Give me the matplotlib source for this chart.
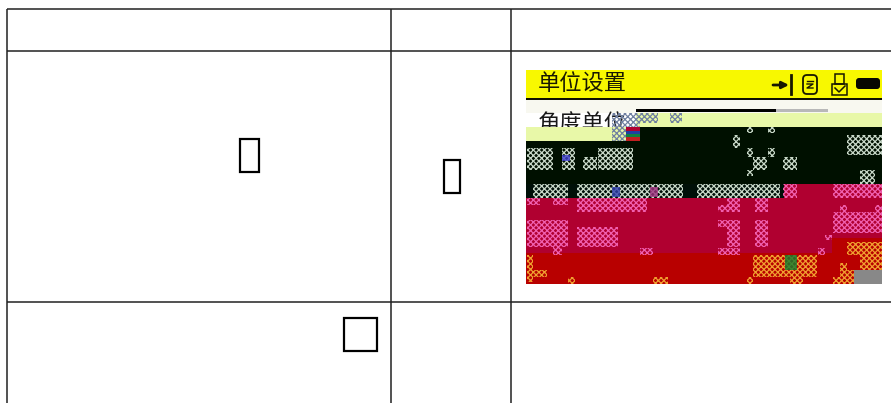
import matplotlib
matplotlib.use("Agg")
import matplotlib.pyplot as plt
from matplotlib.patches import Rectangle, FancyBboxPatch

plt.rcParams['font.family'] = ['Noto Sans CJK SC', 'DejaVu Sans']
plt.rcParams['hatch.linewidth'] = 0.9

title_text = "单位设置"
row_text = "角度单位"

table_h = [8.7, 50.7, 301.7]
table_v = [7.2, 391.2, 511.2]
placeholders = [(240, 139, 18.5, 33), (444, 160, 16, 32.5), (344, 318, 32.5, 33)]

# solid screen regions: x, y, w, h, colour
screen_blocks = [
    (526, 70, 356, 28, "#f8f800"),
    (526, 98, 356, 2, "#101000"),
    (526, 100, 356, 13, "#f8f8f0"),
    (636, 113, 246, 14, "#e8f8a8"),
    (526, 127, 110, 14, "#e8f8a8"),
    (636, 127, 246, 14, "#001000"),
    (526, 141, 356, 43, "#001000"),
    (526, 184, 356, 69, "#b00030"),
    (526, 184, 258, 14, "#001008"),
    (526, 253, 356, 31, "#b80000"),
    (832, 238, 50, 15, "#b80000"),
    (854, 270, 28, 14, "#888888"),
    (636, 109, 140, 3, "#000000"),
    (776, 109, 52, 3, "#b8b8b8"),
    (626, 127, 14, 4, "#b00030"),
    (626, 131, 14, 3, "#2040a0"),
    (626, 134, 14, 3, "#108040"),
    (626, 137, 14, 4, "#c02020"),
]

pale_noise = [(612, 113, 28, 14), (640, 113, 18, 10), (612, 127, 14, 14), (670, 113, 12, 10)]
dark_noise = [(527, 148, 26, 22), (562, 148, 13, 22), (583, 157, 14, 13), (598, 148, 35, 22),
              (733, 135, 7, 13), (747, 127, 6, 6), (768, 127, 7, 6), (747, 148, 6, 9),
              (768, 148, 7, 9), (753, 157, 14, 13), (783, 157, 14, 13), (747, 170, 6, 6),
              (847, 135, 35, 20), (860, 170, 15, 14), (533, 184, 35, 14), (577, 184, 106, 14),
              (697, 184, 83, 14)]
pink_noise = [(527, 198, 13, 7), (553, 198, 15, 7), (577, 198, 70, 14), (718, 205, 9, 7),
              (727, 198, 13, 14), (755, 198, 13, 14), (840, 205, 7, 7), (875, 205, 7, 7),
              (833, 212, 49, 21), (527, 220, 41, 27), (577, 227, 41, 20), (718, 220, 9, 7),
              (727, 220, 13, 27), (755, 220, 13, 27), (553, 247, 9, 8), (640, 248, 13, 7),
              (718, 248, 22, 7), (818, 248, 7, 7), (825, 235, 7, 5), (783, 184, 14, 14),
              (833, 184, 49, 14)]
orange_noise = [(847, 242, 35, 13), (860, 255, 22, 15), (527, 255, 6, 27), (533, 270, 14, 7),
                (753, 255, 64, 22), (840, 263, 7, 7), (840, 270, 14, 14), (568, 277, 7, 7),
                (653, 277, 15, 7), (747, 277, 6, 7), (790, 277, 13, 7), (833, 277, 7, 7)]
colour_spots = [(785, 255, 12, 15, "#108030"), (562, 155, 8, 6, "#4040d0"),
                (650, 187, 8, 10, "#a03080"), (612, 187, 8, 10, "#3040b0")]

fig = plt.figure(figsize=(8.91, 4.03), dpi=100)
ax = fig.add_axes([0, 0, 1, 1])
ax.set_xlim(0, 891)
ax.set_ylim(403, 0)
ax.axis("off")

for y in table_h:
    ax.plot([7, 891], [y, y], color="#222222", lw=1.1, solid_capstyle="butt", zorder=1)
for x in table_v:
    ax.plot([x, x], [9, 403], color="#222222", lw=1.1, solid_capstyle="butt", zorder=1)
for x, y, w, h in placeholders:
    ax.add_patch(Rectangle((x, y), w, h, fc="none", ec="black", lw=1.6, zorder=2))

for x, y, w, h, c in screen_blocks[:3]:
    ax.add_patch(Rectangle((x, y), w, h, fc=c, ec="none", zorder=3))
ax.text(538, 84, title_text, fontsize=16, fontweight="medium", color="#181800", va="center", ha="left", zorder=4)
ax.text(538, 124, row_text, fontsize=16, fontweight="medium", color="#181818", va="center", ha="left", zorder=4)
for x, y, w, h, c in screen_blocks[3:]:
    ax.add_patch(Rectangle((x, y), w, h, fc=c, ec="none", zorder=5))

def noise(items, colour, hatch="xxxxxx"):
    for x, y, w, h in items:
        ax.add_patch(Rectangle((x, y), w, h, fc="none", ec=colour, lw=0, hatch=hatch, zorder=6))

noise(pale_noise, "#7080a0")
noise(dark_noise, "#c8d8c8")
noise(pink_noise, "#f060b0")
noise(orange_noise, "#f0a030")
for x, y, w, h, c in colour_spots:
    ax.add_patch(Rectangle((x, y), w, h, fc=c, ec="none", alpha=0.8, zorder=7))

# status icons
ink = "#181800"
ax.annotate("", xy=(789, 85), xytext=(773, 85), zorder=8,
            arrowprops=dict(arrowstyle="-|>", color=ink, lw=2, mutation_scale=10, shrinkA=0, shrinkB=0))
ax.plot([790.5, 790.5], [75, 94], color=ink, lw=2, zorder=8)
ax.add_patch(FancyBboxPatch((803, 75), 14, 19, boxstyle="round,pad=0,rounding_size=4",
                            fc="none", ec=ink, lw=1.3, zorder=8))
ax.plot([807, 813], [81, 81], color=ink, lw=1, zorder=8)
ax.plot([807, 813, 807, 813], [84, 84, 88, 88], color=ink, lw=1, zorder=8)
ax.add_patch(Rectangle((832, 84), 15, 11, fc="none", ec=ink, lw=1.1, zorder=8))
ax.add_patch(Rectangle((835, 74), 9, 10, fc="none", ec=ink, lw=1.1, zorder=8))
ax.plot([835, 839, 845], [88, 92, 86], color=ink, lw=1.1, zorder=8)
ax.add_patch(FancyBboxPatch((856, 78), 24, 11, boxstyle="round,pad=0,rounding_size=3",
                            fc="#080800", ec="none", zorder=8))

fig.savefig("out.png", dpi=100)
